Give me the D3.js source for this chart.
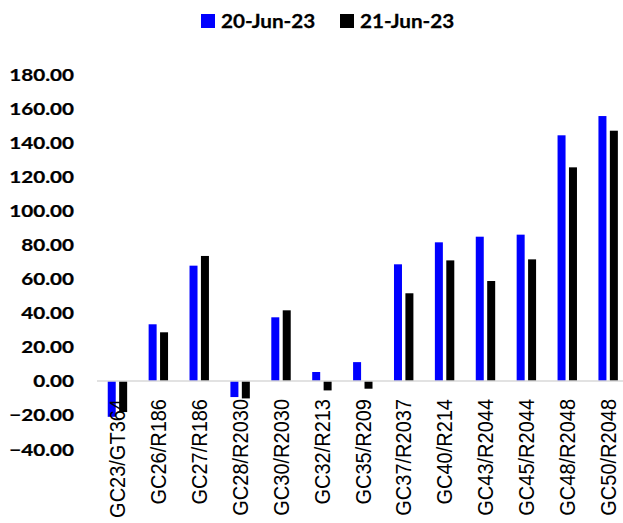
<!DOCTYPE html>
<html>
<head>
<meta charset="utf-8">
<script src="https://cdn.jsdelivr.net/npm/d3@7"></script>
<style>
  html, body { margin: 0; padding: 0; background: #fff; }
  svg { display: block; }
</style>
</head>
<body>
<svg id="chart" width="623" height="523"></svg>
<script>
// Bond spread data per GC/R pair, two trading dates
const categories = ["GC23/GT364", "GC26/R186", "GC27/R186", "GC28/R2030", "GC30/R2030",
  "GC32/R213", "GC35/R209", "GC37/R2037", "GC40/R214", "GC43/R2044",
  "GC45/R2044", "GC48/R2048", "GC50/R2048"];
const seriesNames = ["20-Jun-23", "21-Jun-23"];
const values20Jun = [-21.0, 33.3, 67.7, -9.4, 37.4, 5.3, 11.1, 68.5, 81.4, 84.7, 85.9, 144.2, 155.5];
const values21Jun = [-18.2, 28.6, 73.4, -10.2, 41.5, -5.5, -4.5, 51.5, 70.8, 58.7, 71.4, 125.4, 146.9];
const yTicks = [-40, -20, 0, 20, 40, 60, 80, 100, 120, 140, 160, 180];
const seriesColors = ["#0000ff", "#000000"];

const seriesValues = [values20Jun, values21Jun];
const rows = categories.map((c, i) => ({
  cat: c,
  vals: seriesNames.map((s, j) => ({ key: s, value: seriesValues[j][i] }))
}));

const svg = d3.select("#chart");

const plot = { left: 97, right: 628.6, top: 74.3, bottom: 449.2 };

const y = d3.scaleLinear().domain([-40, 180]).range([plot.bottom, plot.top]);
const x0 = d3.scaleBand().domain(categories).range([plot.left, plot.right]).padding(0);
const x1 = d3.scaleBand().domain(seriesNames).range([0, x0.bandwidth()])
  .paddingInner(0.3).paddingOuter(0.94);
const color = d3.scaleOrdinal().domain(seriesNames).range(seriesColors);

// Y tick labels (bold, right aligned)
const boldFont = "Lato, 'Open Sans', sans-serif";
svg.append("g").selectAll("text")
  .data(yTicks)
  .join("text")
  .attr("transform", d => `translate(74,${y(d)}) scale(1.18,1)`)
  .attr("text-anchor", "end")
  .attr("dy", "0.36em")
  .attr("font-family", boldFont)
  .attr("font-weight", 700)
  .attr("font-size", 17.5)
  .attr("fill", "#000")
  .attr("stroke", "#000")
  .attr("stroke-width", 0.25)
  .text(d => d3.format(".2f")(d));

// Bars
const groups = svg.append("g").selectAll("g")
  .data(rows)
  .join("g")
  .attr("transform", d => `translate(${x0(d.cat)},0)`);

groups.selectAll("rect")
  .data(d => d.vals)
  .join("rect")
  .attr("x", d => x1(d.key))
  .attr("width", x1.bandwidth())
  .attr("y", d => Math.min(y(d.value), y(0)))
  .attr("height", d => Math.abs(y(d.value) - y(0)))
  .attr("fill", d => color(d.key));

// Zero baseline
svg.append("line")
  .attr("x1", plot.left).attr("x2", plot.right)
  .attr("y1", y(0)).attr("y2", y(0))
  .attr("stroke", "#d9d9d9")
  .attr("stroke-width", 1.5);

// Category labels, rotated
svg.append("g").selectAll("text")
  .data(categories)
  .join("text")
  .attr("transform", d => `translate(${x0(d) + x0.bandwidth() / 2},399) rotate(-90) scale(1,1.07)`)
  .attr("text-anchor", "end")
  .attr("dy", "0.36em")
  .attr("font-family", "'Liberation Sans', Arial, sans-serif")
  .attr("font-size", 20)
  .attr("fill", "#000")
  .text(d => d);

// Legend
const legendX = [201, 340];
const legend = svg.append("g").selectAll("g")
  .data(seriesNames)
  .join("g")
  .attr("transform", (d, i) => `translate(${legendX[i]},14)`);
legend.append("rect")
  .attr("width", 14).attr("height", 14)
  .attr("fill", d => color(d));
legend.append("text")
  .attr("transform", "translate(20,13.7) scale(1.09,1)")
  .attr("font-family", boldFont)
  .attr("font-weight", 700)
  .attr("font-size", 19)
  .attr("fill", "#000")
  .attr("stroke", "#000")
  .attr("stroke-width", 0.25)
  .text(d => d);
</script>
</body>
</html>
